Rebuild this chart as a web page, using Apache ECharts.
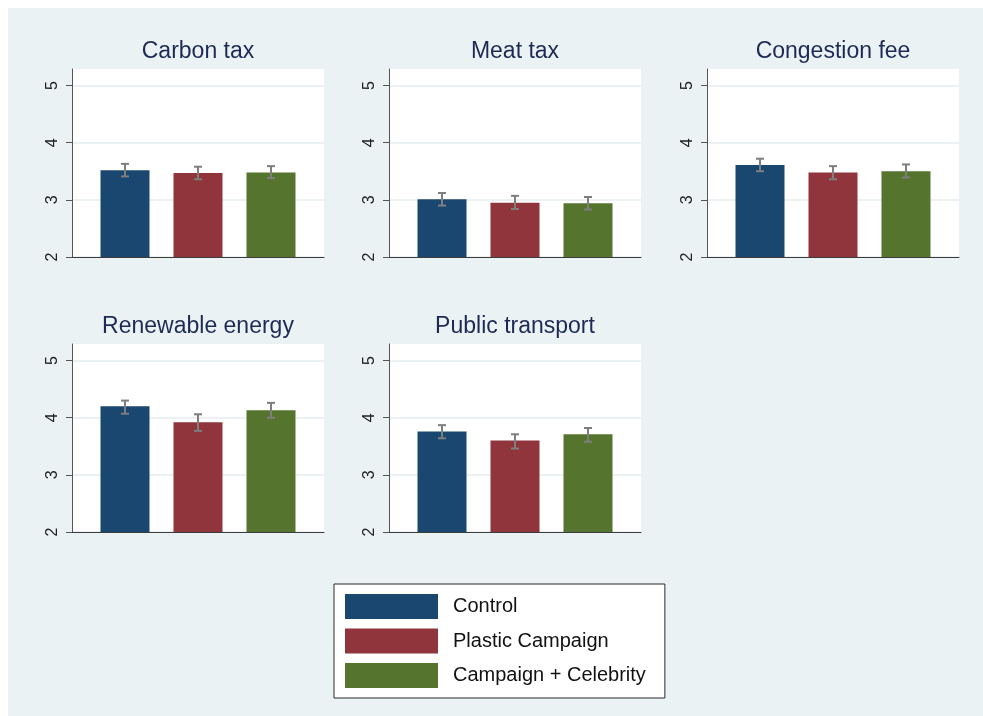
<!DOCTYPE html>
<html>
<head>
<meta charset="utf-8">
<title>Support for climate policies by treatment group</title>
<script src="https://cdn.jsdelivr.net/npm/echarts@6/dist/echarts.min.js"></script>
<style>
  html, body { margin: 0; padding: 0; background: #ffffff; }
  #frame { position: absolute; left: 8px; top: 8px; width: 975px; height: 708px; background: #EAF2F3; }
  #chart { position: absolute; left: 0; top: 0; width: 983px; height: 716px; }
</style>
</head>
<body>
<div id="frame"></div>
<div id="chart"></div>
<script>
// Policy items (one panel each) and treatment groups
const policies = ['Carbon tax', 'Meat tax', 'Congestion fee', 'Renewable energy', 'Public transport'];
const groups = ['Control', 'Plastic Campaign', 'Campaign + Celebrity'];

// Mean support per policy, by group
const controlMean   = [3.52, 3.01, 3.61, 4.20, 3.76];
const plasticMean   = [3.47, 2.95, 3.48, 3.92, 3.60];
const celebrityMean = [3.48, 2.94, 3.50, 4.13, 3.71];

// 95% confidence interval bounds
const controlLow    = [3.41, 2.90, 3.50, 4.07, 3.64];
const controlHigh   = [3.63, 3.12, 3.72, 4.30, 3.87];
const plasticLow    = [3.36, 2.84, 3.36, 3.77, 3.46];
const plasticHigh   = [3.58, 3.07, 3.59, 4.06, 3.71];
const celebrityLow  = [3.38, 2.83, 3.39, 4.00, 3.58];
const celebrityHigh = [3.59, 3.05, 3.62, 4.26, 3.82];

// Y-axis tick labels
const yTicks = [2, 3, 4, 5];

const means = [controlMean, plasticMean, celebrityMean];
const lows = [controlLow, plasticLow, celebrityLow];
const highs = [controlHigh, plasticHigh, celebrityHigh];
const groupColors = ['#1A476F', '#90353B', '#55752F'];

// Panel placement (pixels)
const panelLeft = [72, 389, 707, 72, 389];
const panelTop = [69, 69, 69, 344, 344];
const panelWidth = 252;
const panelHeight = 188;
const W = 983, H = 716;

const FONT = '"Liberation Sans", Arial, Helvetica, sans-serif';

const grids = [], xAxes = [], yAxes = [], titles = [], series = [];

policies.forEach((name, i) => {
  grids.push({
    left: panelLeft[i],
    top: panelTop[i],
    width: panelWidth,
    height: panelHeight,
    show: true,
    backgroundColor: '#ffffff',
    borderWidth: 0
  });
  xAxes.push({
    gridIndex: i,
    type: 'value',
    min: 0.274,
    max: 3.726,
    axisLine: { show: true, onZero: false, lineStyle: { color: '#3c3c3c', width: 1 } },
    axisTick: { show: false },
    axisLabel: { show: false },
    splitLine: { show: false }
  });
  yAxes.push({
    gridIndex: i,
    type: 'value',
    min: 2,
    max: 5.29,
    interval: 1,
    axisLine: { show: true, lineStyle: { color: '#555555', width: 1 } },
    axisTick: { show: true, length: 6, customValues: yTicks, lineStyle: { color: '#555555' } },
    axisLabel: {
      customValues: yTicks,
      rotate: 90,
      margin: 11,
      fontSize: 16,
      color: '#222222',
      fontFamily: FONT
    },
    splitLine: { show: true, lineStyle: { color: '#E6EEF0', width: 1.5 } }
  });
  titles.push({
    text: name,
    left: panelLeft[i] + panelWidth / 2,
    top: panelTop[i] - 29,
    textAlign: 'center',
    padding: 0,
    textStyle: { fontSize: 23, fontWeight: 'normal', color: '#1E2A55', fontFamily: FONT }
  });

  groups.forEach((g, k) => {
    series.push({
      type: 'bar',
      name: g,
      xAxisIndex: i,
      yAxisIndex: i,
      barWidth: 49,
      barGap: '-100%',
      itemStyle: { color: groupColors[k] },
      silent: true,
      data: [[k + 1, means[k][i]]]
    });
  });

  // Confidence interval whiskers
  series.push({
    type: 'custom',
    name: 'ci',
    xAxisIndex: i,
    yAxisIndex: i,
    silent: true,
    z: 5,
    data: groups.map((g, k) => [k + 1, lows[k][i], highs[k][i]]),
    renderItem: function (params, api) {
      const x = api.value(0);
      const lo = api.coord([x, api.value(1)]);
      const hi = api.coord([x, api.value(2)]);
      const cap = 4;
      const st = { stroke: '#7E7E7E', lineWidth: 2 };
      return {
        type: 'group',
        children: [
          { type: 'line', shape: { x1: lo[0], y1: lo[1], x2: hi[0], y2: hi[1] }, style: st },
          { type: 'line', shape: { x1: hi[0] - cap, y1: hi[1], x2: hi[0] + cap, y2: hi[1] }, style: st },
          { type: 'line', shape: { x1: lo[0] - cap, y1: lo[1], x2: lo[0] + cap, y2: lo[1] }, style: st }
        ]
      };
    }
  });
});

const chart = echarts.init(document.getElementById('chart'), null, { renderer: 'canvas', width: W, height: H });
chart.setOption({
  backgroundColor: 'transparent',
  animation: false,
  title: titles,
  grid: grids,
  xAxis: xAxes,
  yAxis: yAxes,
  legend: {
    data: groups,
    orient: 'vertical',
    left: 334,
    top: 584,
    icon: 'rect',
    itemWidth: 93,
    itemHeight: 25,
    itemGap: 9.5,
    padding: [10, 19, 10, 11],
    backgroundColor: '#ffffff',
    borderColor: '#2b2b2b',
    borderWidth: 1,
    selectedMode: false,
    textStyle: { fontSize: 20, color: '#111111', fontFamily: FONT, padding: [0, 0, 0, 10] }
  },
  series: series
});
</script>
</body>
</html>
